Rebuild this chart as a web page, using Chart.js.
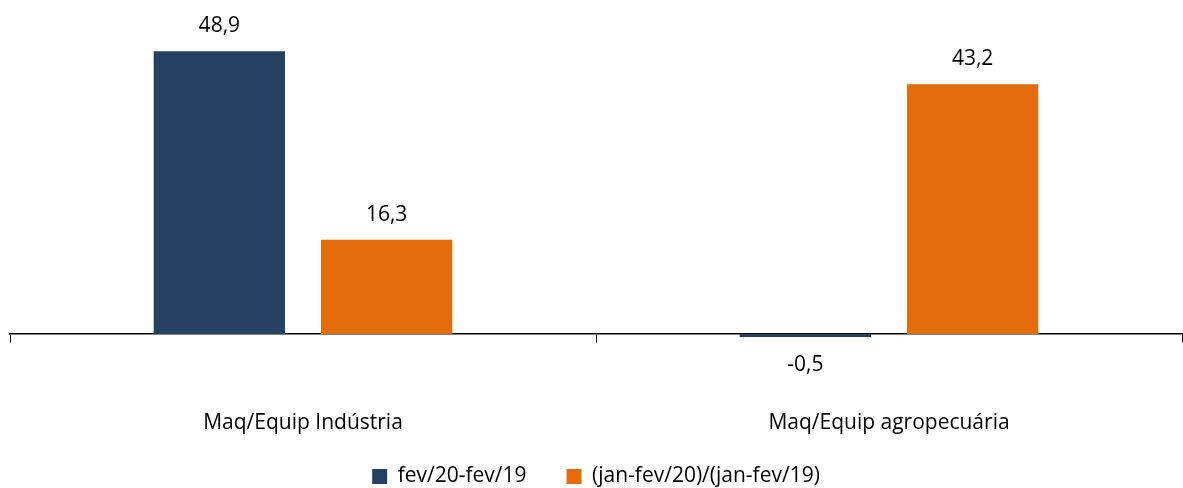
<!DOCTYPE html>
<html>
<head>
<meta charset="utf-8">
<script src="https://cdn.jsdelivr.net/npm/chart.js@4.4.1/dist/chart.umd.min.js"></script>
<style>
html,body{margin:0;padding:0;background:#fff;}
#wrap{width:1183px;height:488px;}
</style>
</head>
<body>
<div id="wrap"><canvas id="c" width="1183" height="488"></canvas></div>
<script>
const categories = ['Maq/Equip Indústria', 'Maq/Equip agropecuária'];
const seriesNames = ['fev/20-fev/19', '(jan-fev/20)/(jan-fev/19)'];
const seriesMonth = [48.9, -0.5];
const seriesYtd = [16.3, 43.2];
const colors = ['#254061', '#E46C0A'];

const FONT = '"Open Sans", sans-serif';
const FSIZE = 21;

const labelPlugin = {
  id: 'valueLabels',
  afterDatasetsDraw(chart) {
    const ctx = chart.ctx;
    ctx.save();
    ctx.font = FSIZE + 'px ' + FONT;
    ctx.fillStyle = '#000';
    ctx.textAlign = 'center';
    ctx.textBaseline = 'middle';
    chart.data.datasets.forEach((ds, di) => {
      const meta = chart.getDatasetMeta(di);
      meta.data.forEach((bar, i) => {
        const v = ds.data[i];
        const txt = v.toFixed(1).replace('.', ',');
        const y = v >= 0 ? bar.y - 25 : bar.y + 28;
        ctx.fillText(txt, bar.x, y);
      });
    });
    ctx.restore();
  }
};

new Chart(document.getElementById('c'), {
  type: 'bar',
  data: {
    labels: categories,
    datasets: [
      { label: seriesNames[0], data: seriesMonth, backgroundColor: colors[0] },
      { label: seriesNames[1], data: seriesYtd, backgroundColor: colors[1] }
    ]
  },
  options: {
    responsive: false,
    animation: false,
    devicePixelRatio: 1,
    categoryPercentage: 0.571,
    barPercentage: 0.785,
    layout: { padding: { left: 10, right: 1, top: 45, bottom: -9 } },
    plugins: {
      legend: {
        position: 'bottom',
        labels: {
          font: { family: FONT, size: FSIZE },
          color: '#000',
          boxWidth: 15,
          boxHeight: 15,
          padding: 40
        }
      },
      tooltip: { enabled: false }
    },
    scales: {
      x: {
        position: { y: 0 },
        grid: { display: true, drawOnChartArea: false, drawTicks: true, tickLength: 8, color: '#000', offset: true },
        border: { display: true, color: '#000', width: 1.5 },
        ticks: { color: '#000', font: { family: FONT, size: FSIZE }, padding: 68 }
      },
      y: {
        display: false,
        min: -15.9,
        max: 50
      }
    }
  },
  plugins: [labelPlugin]
});
</script>
</body>
</html>
